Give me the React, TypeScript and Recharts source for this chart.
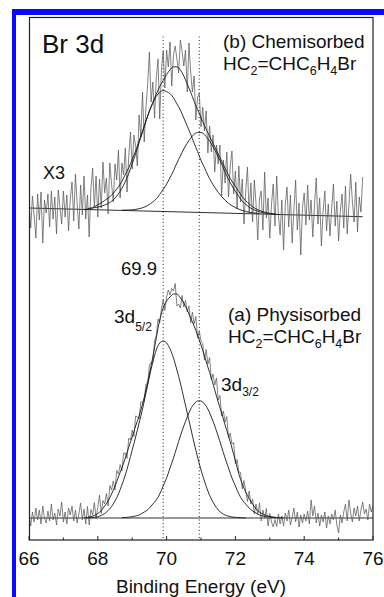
import React from "react";
import { LineChart, Line, XAxis, YAxis, ReferenceLine } from "recharts";

// ---- x grid of the raw spectra (eV) ----
const RAW_START = 66;
const RAW_STEP = 0.05;

// (b) chemisorbed, x3 (66.00 -> 75.70 eV)
const chemRaw = [
  337, 312, 344, 324, 302, 346, 320, 348, 297, 340,
  327, 346, 313, 349, 321, 343, 306, 350, 333, 316,
  349, 323, 345, 309, 341, 358, 319, 366, 336, 311,
  355, 325, 364, 321, 345, 303, 351, 372, 333, 364,
  323, 361, 332, 378, 347, 362, 326, 377, 356, 338,
  376, 360, 390, 342, 377, 365, 392, 348, 384, 408,
  371, 405, 394, 374, 425, 403, 448, 398, 433, 456,
  488, 438, 458, 422, 462, 481, 421, 470, 489, 452,
  490, 473, 498, 454, 485, 494, 481, 467, 500, 489,
  474, 490, 448, 497, 468, 448, 464, 420, 443, 447,
  413, 433, 409, 429, 387, 414, 388, 405, 368, 395,
  376, 395, 344, 380, 357, 388, 343, 374, 389, 346,
  369, 331, 374, 338, 361, 316, 349, 373, 326, 357,
  318, 360, 336, 300, 341, 349, 310, 368, 322, 342,
  302, 336, 356, 314, 364, 325, 305, 340, 290, 335,
  353, 313, 345, 297, 330, 360, 310, 337, 285, 333,
  347, 315, 355, 320, 340, 303, 335, 362, 316, 342,
  294, 329, 349, 309, 336, 304, 332, 356, 314, 339,
  299, 329, 346, 312, 354, 306, 334, 366, 339, 318,
  358, 308, 343, 328, 363,
];

// (a) physisorbed (66.00 -> 76.00 eV)
const physRaw = [
  25, 14, 28, 18, 32, 20, 30, 16, 34, 22,
  17, 29, 19, 36, 20, 27, 15, 31, 24, 38,
  18, 28, 16, 32, 25, 34, 19, 30, 17, 26,
  37, 20, 31, 16, 33.5, 15, 30.5, 25, 37.5, 21.5,
  32.5, 45, 26.5, 39.5, 36, 46.5, 34, 54.5, 50, 59,
  50, 69.5, 66, 75.5, 69, 87, 87, 81.5, 102, 100,
  110, 103.5, 124, 123, 121, 138, 138, 139, 156, 156,
  175, 177.5, 178, 199.5, 204, 221, 217, 231, 240, 229.5,
  243, 250, 245, 251.5, 249, 256.5, 234, 236, 232, 244.5,
  233, 239.5, 228, 234, 217, 228, 216, 223.5, 202, 209,
  199, 196.5, 180, 190.5, 176, 182.5, 160, 166, 155, 162,
  140, 144.5, 124, 129, 118, 123.5, 102, 107, 96, 97.5,
  76, 80.5, 68, 67.5, 51, 59.5, 49, 38.5, 49, 36,
  41, 26, 36, 25.5, 37, 19, 30, 22, 31.5, 14,
  26.5, 18, 13, 20.5, 13.5, 26, 16, 24, 14, 27,
  19, 30, 15, 23, 32, 18, 28, 13, 25, 17,
  26, 19, 29, 16, 40, 24, 34, 17, 27, 14,
  25, 18, 28, 12, 24, 16, 26, 20, 30, 15,
  7, 25, 17, 28, 36, 19, 40, 27, 18, 32,
  24, 34, 19, 30, 38, 26, 31, 20, 36, 28,
  35,
];

// ---- fitted curves, sampled every 0.1 eV ----
const FIT_STEP = 0.1;
const chemEnvStart = 67.6;
const chemEnv = [
  330.6, 330.5, 331.4, 333.3, 335.2, 337.1, 339.5, 341.9, 344.8, 348.8,
  353.2, 358.6, 365.5, 372.4, 380.3, 389.2, 399.1, 409, 418.9, 428.9,
  437.8, 445.7, 453.6, 459.5, 465.4, 470.3, 473.2, 473.1, 470, 464,
  455.9, 447.8, 438.7, 430.6, 422.5, 414.4, 407.3, 400.2, 393.1, 386.1,
  379, 371.9, 364.8, 358.7, 353.6, 348.5, 343.4, 339.3, 336.2, 333.2,
  331.1, 329.5, 328.4, 327.3, 326.7, 326.1, 325.5, 325.4,
];
const chemComp1Start = 67.7;
const chemComp1 = [
  331.5, 331.9, 332.3, 332.9, 333.6, 335, 336.4, 338.8, 341.8, 346.2,
  351.6, 358.5, 366.4, 376.3, 386.2, 397.1, 408, 418.9, 428.9, 436.8,
  443.7, 447.6, 449.5, 448.4, 446.3, 442.2, 436.1, 430, 422, 413.9,
  405.8, 396.7, 388.6, 379.5, 372.4, 364.8, 358.2, 352.6, 347.7, 343.4,
  339.8, 336.7, 334.3, 332.4, 330.8, 329.6, 328.5, 327.8, 327.3, 326.8, 326.4,
];
const chemComp2Start = 68.7;
const chemComp2 = [
  329.8, 329.9, 330, 330.2, 330.6, 331.3, 332.2, 333.5, 335.5, 338.1,
  341.2, 345.6, 350.5, 355.9, 362.3, 369.2, 377.1, 384, 391, 396.9,
  401.8, 405.7, 407.6, 407.5, 405.4, 401.3, 396.2, 390.1, 383.1, 376,
  367.9, 360.8, 354.2, 348.6, 343.5, 338.9, 335.6, 332.8, 330.8, 329.3,
  328.2, 327.3, 326.7, 326.3, 326, 325.7,
];
const chemBackground = [
  { x: 66, y: 332 },
  { x: 75.7, y: 323.3 },
];

const physEnvStart = 67.6;
const physEnv = [
  22, 22.5, 23.5, 24.5, 26.5, 29.5, 34, 39, 46, 54,
  63, 72, 82, 93, 103, 114, 124, 136, 150, 166,
  183, 202, 220, 232, 239, 243, 246, 246, 242, 237,
  230, 222, 214, 205, 195, 184, 173, 162, 150, 138,
  127, 115, 104, 92, 79, 66, 56, 48, 41.5, 36,
  31, 28, 26, 24.5, 23.5, 23, 22.5, 22.2, 22,
];
const physComp52Start = 67.7;
const physComp52 = [
  22.2, 22.4, 22.7, 23.3, 24.5, 26.5, 29.5, 33.5, 39, 46,
  55, 65, 77, 90, 103, 117, 131, 147, 163, 178,
  190, 197, 199, 197, 191, 182, 170, 157, 142, 127,
  112, 97, 83, 70, 59, 49, 41, 35, 30, 27,
  25, 23.8, 23, 22.7, 22.4, 22.2, 22,
];
const physComp32Start = 68.7;
const physComp32 = [
  22.3, 22.5, 22.8, 23.3, 24, 25, 27, 29, 32, 36,
  40, 46, 54, 62, 72, 82, 93, 104, 114, 123,
  131, 136, 139, 139, 136, 131, 123, 114, 104, 93,
  82, 72, 62, 54, 46, 40, 36, 32, 29, 27,
  25, 24, 23.3, 22.8, 22.5, 22.3,
];
const physBackground = [
  { x: 66, y: 22 },
  { x: 76, y: 22 },
];

const peakPositions = [69.9, 70.95];
const xTicks = [66, 67, 68, 69, 70, 71, 72, 73, 74, 75, 76];
const Y_MAX = 523;

const toPoints = (start: number, step: number, ys: number[]) =>
  ys.map((y, i) => ({ x: Math.round((start + i * step) * 100) / 100, y }));

const FONT = "'Liberation Sans', Arial, Helvetica, sans-serif";
const DATA_COLOR = "#5a5a5a";
const FIT_COLOR = "#1a1a1a";

const AxisTick = (props: any) => {
  const { x, y, payload } = props;
  const v = payload.value as number;
  const major = v % 2 === 0;
  return (
    <g>
      <line x1={x} x2={x} y1={y} y2={y - (major ? 4 : 2.5)} stroke="#222" strokeWidth={1} />
      {major && (
        <text x={x} y={y + 25} textAnchor="middle" fontSize={19} fontFamily={FONT} fill="#111">
          {v}
        </text>
      )}
    </g>
  );
};

const Formula = ({ x, y }: { x: number; y: number }) => (
  <text x={x} y={y} fontSize={19} fontFamily={FONT} fill="#111">
    HC
    <tspan fontSize={12.5} dy={5}>2</tspan>
    <tspan dy={-5}>=CHC</tspan>
    <tspan fontSize={12.5} dy={5}>6</tspan>
    <tspan dy={-5}>H</tspan>
    <tspan fontSize={12.5} dy={5}>4</tspan>
    <tspan dy={-5}>Br</tspan>
  </text>
);

export default function App() {
  const chemRawPts = toPoints(RAW_START, RAW_STEP, chemRaw);
  const physRawPts = toPoints(RAW_START, RAW_STEP, physRaw);
  const lineCommon = { dot: false, isAnimationActive: false, dataKey: "y" } as const;

  return (
    <div style={{ position: "absolute", left: 0, top: 0, width: 384, height: 597, background: "#fff" }}>
      <LineChart width={384} height={597} margin={{ top: 17, right: 11, bottom: 27, left: 29 }}>
        <XAxis
          dataKey="x"
          type="number"
          domain={[66, 76]}
          ticks={xTicks}
          allowDataOverflow
          height={30}
          tickSize={0}
          tickMargin={0}
          axisLine={false}
          tick={<AxisTick />}
          interval={0}
        />
        <YAxis type="number" domain={[0, Y_MAX]} hide allowDataOverflow />
        {peakPositions.map((p) => (
          <ReferenceLine
            key={p}
            segment={[
              { x: p, y: 2 },
              { x: p, y: 505 },
            ]}
            stroke="#222"
            strokeWidth={1}
            strokeDasharray="1 2.5"
          />
        ))}
        <Line {...lineCommon} data={chemBackground} type="linear" stroke={FIT_COLOR} strokeWidth={0.9} />
        <Line {...lineCommon} data={physBackground} type="linear" stroke={FIT_COLOR} strokeWidth={0.9} />
        <Line {...lineCommon} data={chemRawPts} type="linear" stroke={DATA_COLOR} strokeWidth={0.75} />
        <Line {...lineCommon} data={physRawPts} type="linear" stroke={DATA_COLOR} strokeWidth={0.75} />
        <Line {...lineCommon} data={toPoints(chemComp1Start, FIT_STEP, chemComp1)} type="monotone" stroke={FIT_COLOR} strokeWidth={0.9} />
        <Line {...lineCommon} data={toPoints(chemComp2Start, FIT_STEP, chemComp2)} type="monotone" stroke={FIT_COLOR} strokeWidth={0.9} />
        <Line {...lineCommon} data={toPoints(chemEnvStart, FIT_STEP, chemEnv)} type="monotone" stroke={FIT_COLOR} strokeWidth={0.9} />
        <Line {...lineCommon} data={toPoints(physComp52Start, FIT_STEP, physComp52)} type="monotone" stroke={FIT_COLOR} strokeWidth={0.9} />
        <Line {...lineCommon} data={toPoints(physComp32Start, FIT_STEP, physComp32)} type="monotone" stroke={FIT_COLOR} strokeWidth={0.9} />
        <Line {...lineCommon} data={toPoints(physEnvStart, FIT_STEP, physEnv)} type="monotone" stroke={FIT_COLOR} strokeWidth={0.9} />
      </LineChart>
      <svg
        width={384}
        height={597}
        style={{ position: "absolute", left: 0, top: 0, pointerEvents: "none" }}
      >
        <rect x={12} y={9} width={372} height={6} fill="#0a0aff" />
        <rect x={12} y={9} width={4} height={588} fill="#0a0aff" />
        <rect x={29.5} y={17.5} width={343.5} height={522.5} fill="none" stroke="#222" strokeWidth={1.2} />
        <text x={42} y={53} fontSize={26} fontFamily={FONT} fill="#111">Br 3d</text>
        <text x={223} y={48} fontSize={19} fontFamily={FONT} fill="#111">(b) Chemisorbed</text>
        <Formula x={223} y={70} />
        <text x={43} y={179} fontSize={18} fontFamily={FONT} fill="#111">X3</text>
        <text x={121} y={275} fontSize={18.5} fontFamily={FONT} fill="#111">69.9</text>
        <text x={114} y={323} fontSize={19} fontFamily={FONT} fill="#111">
          3d<tspan fontSize={12} dy={8}>5/2</tspan>
        </text>
        <text x={228} y={321} fontSize={19} fontFamily={FONT} fill="#111">(a) Physisorbed</text>
        <Formula x={228} y={343} />
        <text x={221} y={391} fontSize={19} fontFamily={FONT} fill="#111">
          3d<tspan fontSize={12} dy={5}>3/2</tspan>
        </text>
        <text x={201} y={593} textAnchor="middle" fontSize={19} fontFamily={FONT} fill="#111">
          Binding Energy (eV)
        </text>
      </svg>
    </div>
  );
}
